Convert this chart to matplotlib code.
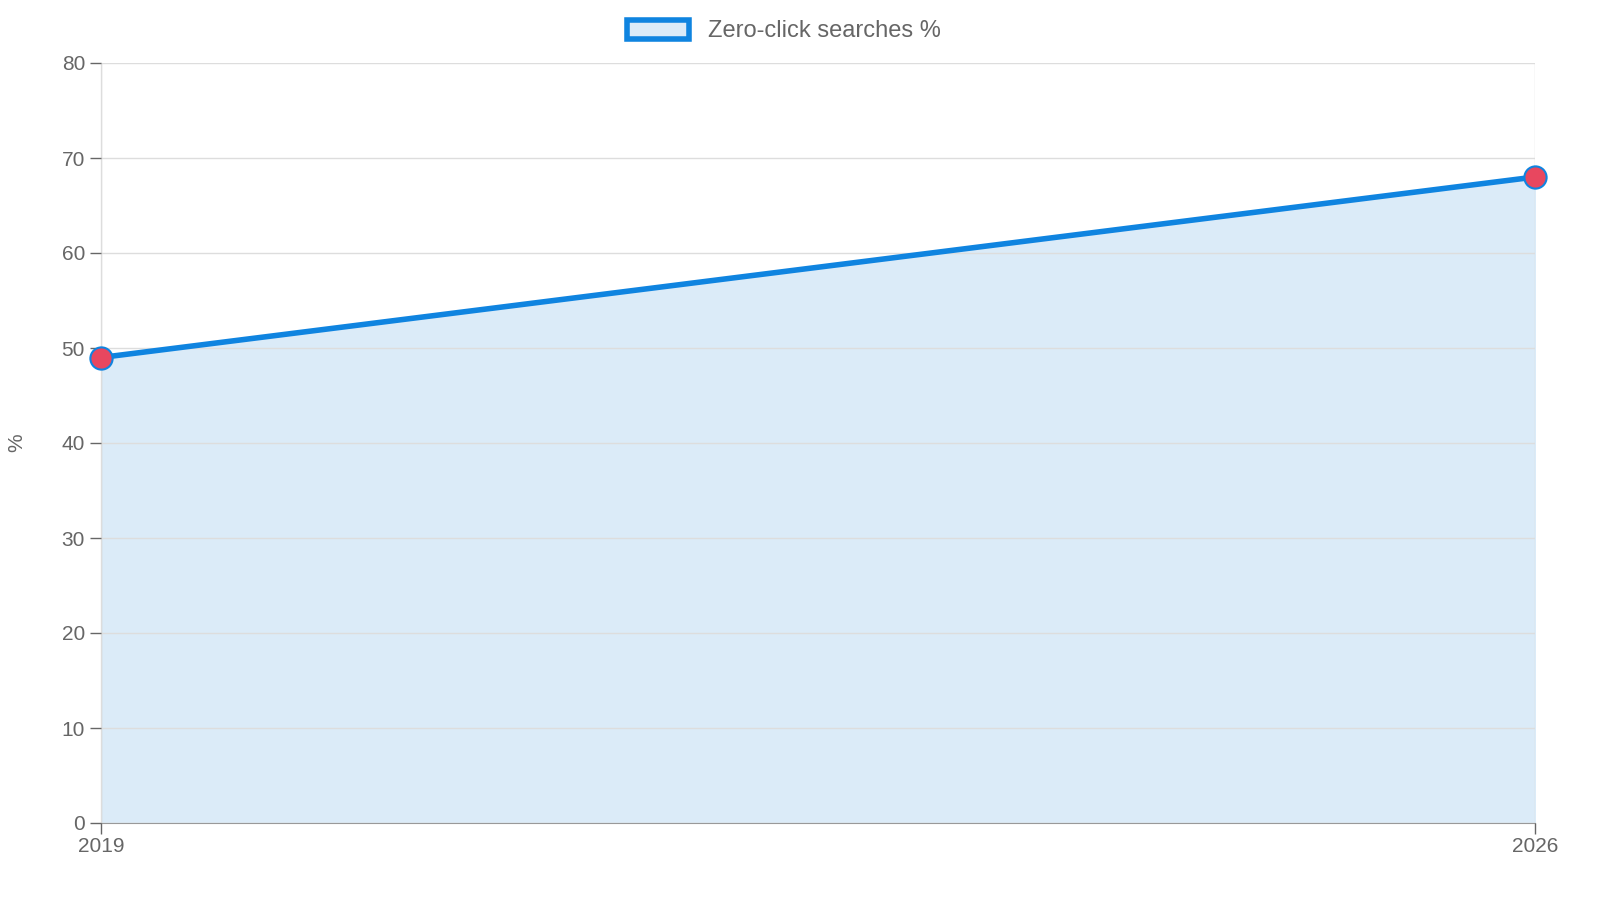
import matplotlib
matplotlib.use("Agg")
import matplotlib.pyplot as plt
from matplotlib.patches import Patch

years = ["2019", "2026"]
values = [49, 68]
label = "Zero-click searches %"

plt.rcParams['font.family'] = ['Liberation Sans', 'DejaVu Sans']
fig = plt.figure(figsize=(16, 9), dpi=100)
ax = fig.add_axes([101/1600, 1-823/900, (1535-101)/1600, (823-63)/900])
x = list(range(len(years)))
line_c = '#0f84e0'
ax.fill_between(x, values, 0, color='#dbebf8', zorder=1)
ax.plot(x, values, color=line_c, lw=4, zorder=3)
ax.plot(x, values, 'o', ms=16, mfc='#e8475f', mec=line_c, mew=1.5, zorder=4, clip_on=False)
ax.set_xlim(0, len(years)-1)
ax.set_ylim(0, 80)
ax.set_yticks(range(0, 81, 10))
ax.set_xticks(x)
ax.set_xticklabels(years)
ax.grid(True, color='#dddddd', lw=1, zorder=2)
ax.set_axisbelow(False)
for s in ['top', 'right']:
    ax.spines[s].set_visible(False)
for s in ['left', 'bottom']:
    ax.spines[s].set_color('#999999')
ax.tick_params(colors='#666666', labelsize=15, length=8, width=1)
ax.tick_params(axis='x', pad=2)
ax.set_ylabel('%', color='#666666', fontsize=15, labelpad=20)
ax.yaxis.set_label_coords(-0.052, 0.5)
h = Patch(facecolor='#dbebf8', edgecolor=line_c, lw=4)
fig.legend([h], [label], loc='center', bbox_to_anchor=(0.49, 1-31/900), frameon=False,
           fontsize=17, labelcolor='#666666', handlelength=2.6, handleheight=0.9)
fig.savefig('out.png')
